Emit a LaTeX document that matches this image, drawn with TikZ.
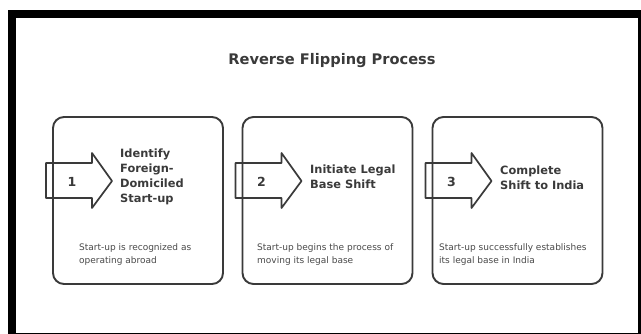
\documentclass[tikz,border=0pt]{standalone}
\usepackage{fontspec}
\setmainfont{DejaVu Sans}
\definecolor{ink}{HTML}{3A3A3A}
\definecolor{softink}{HTML}{4A4A4A}
\tikzset{
  stepbox/.style={draw=ink, line width=1.9pt, rounded corners=11pt,
    minimum width=170pt, minimum height=167pt, inner sep=0pt},
  flag/.style={draw=ink, line width=1.7pt, line join=round},
  numtxt/.style={font=\fontsize{12.5}{14}\selectfont\bfseries, text=ink, inner sep=0pt},
  titletxt/.style={font=\fontsize{11.4}{15}\selectfont\bfseries, text=ink,
    align=left, anchor=west, inner sep=0pt},
  desctxt/.style={font=\fontsize{9}{13}\selectfont, text=softink,
    align=left, anchor=west, inner sep=0pt},
  headtxt/.style={font=\fontsize{14.6}{16}\selectfont\bfseries, text=ink, inner sep=0pt}
}
\begin{document}
\begin{tikzpicture}[x=1pt, y=-1pt]
\useasboundingbox (0,0) rectangle (641,334);
% frame
\fill[black] (8,10) rectangle (641,334);
\fill[white] (16,18.5) rectangle (638,333);

% title
\node[headtxt] (head) at (332,61) {Reverse Flipping Process};

% boxes and arrows
\foreach \i/\cx in {1/138,2/327.5,3/517.5}{
  \node[stepbox] (b\i) at (\cx,200.5) {};
  \pgfmathsetmacro{\bx}{\cx-85}
  \draw[flag] (\bx-7,163) -- (\bx+39,163) -- (\bx+39,153) -- (\bx+59,181)
     -- (\bx+39,208) -- (\bx+39,198) -- (\bx-7,198) -- cycle;
  \node[numtxt] (n\i) at (\bx+19,182) {\i};
}

% step titles
\node[titletxt] (t1) at (120,177) {Identify\\Foreign-\\Domiciled\\Start-up};
\node[titletxt] (t2) at (310,177) {Initiate Legal\\Base Shift};
\node[titletxt] (t3) at (500,178) {Complete\\Shift to India};

% descriptions
\node[desctxt] (d1) at (79,254.5) {Start-up is recognized as\\operating abroad};
\node[desctxt] (d2) at (257,254.5) {Start-up begins the process of\\moving its legal base};
\node[desctxt] (d3) at (439,254.5) {Start-up successfully establishes\\its legal base in India};
\end{tikzpicture}
\end{document}
